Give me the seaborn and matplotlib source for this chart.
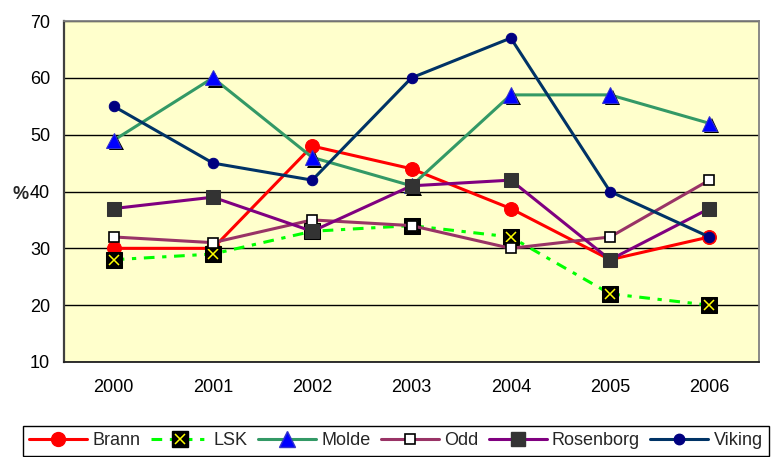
import matplotlib
matplotlib.use("Agg")
import matplotlib.pyplot as plt
import matplotlib.patheffects as pe
from matplotlib.lines import Line2D
from matplotlib.legend_handler import HandlerTuple
import seaborn as sns
import pandas as pd
import numpy as np

years = ["2000", "2001", "2002", "2003", "2004", "2005", "2006"]
brann = [30, 30, 48, 44, 37, 28, 32]
lsk = [28, 29, 33, 34, 32, 22, 20]
molde = [49, 60, 46, 41, 57, 57, 52]
odd = [32, 31, 35, 34, 30, 32, 42]
rosenborg = [37, 39, 33, 41, 42, 28, 37]
viking = [55, 45, 42, 60, 67, 40, 32]
yticks = [10, 20, 30, 40, 50, 60, 70]

sns.set_style("white")
plt.rcParams["font.family"] = ["Liberation Sans", "DejaVu Sans"]

fig = plt.figure(figsize=(7.73, 4.57), dpi=100)
W, H = 773, 457
ax = fig.add_axes([64 / W, (H - 362) / H, 695 / W, 341 / H])
ax.set_facecolor("#FFFFCC")

x = np.arange(len(years))
LW = 2.2

def df_of(vals):
    return pd.DataFrame({"x": x, "y": vals})

# Brann
sns.lineplot(data=df_of(brann), x="x", y="y", ax=ax, color="#FF0000", lw=LW,
             marker="o", markersize=10, markerfacecolor="#FF0000",
             markeredgecolor="#FF0000")
# LSK
lsk_ls = (0, (3.5, 2.5, 1.4, 2.5))
sns.lineplot(data=df_of(lsk), x="x", y="y", ax=ax, color="#00FF00", lw=LW,
             linestyle=lsk_ls)
sns.lineplot(data=df_of(lsk), x="x", y="y", ax=ax, color="black",
             linestyle="none", marker="s", markersize=11,
             markerfacecolor="black", markeredgecolor="black")
sns.lineplot(data=df_of(lsk), x="x", y="y", ax=ax, color="#FFFF00",
             linestyle="none", marker="x", markersize=7, markeredgewidth=1.1,
             markeredgecolor="#FFFF00")
# Molde
sns.lineplot(data=df_of(molde), x="x", y="y", ax=ax, color="#339966", lw=LW)
sns.lineplot(data=df_of(molde), x="x", y="y", ax=ax, color="#0000FF",
             linestyle="none", marker="^", markersize=11,
             markerfacecolor="#0000FF", markeredgecolor="#3333CC",
             path_effects=[pe.SimplePatchShadow(offset=(1.8, -1.8),
                                                shadow_rgbFace="black", alpha=1),
                           pe.Normal()])
# Odd
sns.lineplot(data=df_of(odd), x="x", y="y", ax=ax, color="#993366", lw=LW,
             marker="s", markersize=7.5, markerfacecolor="white",
             markeredgecolor="black", markeredgewidth=1.2)
# Rosenborg
sns.lineplot(data=df_of(rosenborg), x="x", y="y", ax=ax, color="#800080", lw=LW,
             marker="s", markersize=9.5, markerfacecolor="#333333",
             markeredgecolor="#333333")
# Viking
sns.lineplot(data=df_of(viking), x="x", y="y", ax=ax, color="#003366", lw=LW,
             marker="o", markersize=7.5, markerfacecolor="#000080",
             markeredgecolor="#000080")

ax.set_xlim(-0.5, len(years) - 0.5)
ax.set_ylim(yticks[0], yticks[-1])
ax.set_yticks(yticks)
ax.set_xticks(x)
ax.set_xticklabels(years)
ax.set_xticks(np.arange(-0.5, len(years)), minor=True)
ax.tick_params(axis="x", which="major", length=0, pad=12, labelsize=13, colors="black")
ax.tick_params(axis="x", which="minor", length=5, width=1.2, color="#404040", direction="out")
ax.tick_params(axis="y", which="major", length=5, width=1.2, color="#404040",
               direction="out", pad=5, labelsize=13, labelcolor="black")
ax.grid(axis="y", color="black", lw=1)
ax.grid(axis="x", visible=False)
ax.set_axisbelow(True)
ax.set_xlabel("")
ax.set_ylabel("%", rotation=0, fontweight="bold", fontsize=13, ha="center", va="center")
ax.yaxis.set_label_coords(-0.063, 0.49)

for s in ["top", "right"]:
    ax.spines[s].set_color("#808080")
    ax.spines[s].set_linewidth(1.3)
ax.spines["left"].set_color("#404040")
ax.spines["left"].set_linewidth(1.6)
ax.spines["bottom"].set_color("#202020")
ax.spines["bottom"].set_linewidth(1.3)

h_brann = Line2D([], [], color="#FF0000", lw=LW, marker="o", markersize=10,
                 markerfacecolor="#FF0000", markeredgecolor="#FF0000")
h_lsk = (Line2D([], [], color="#00FF00", lw=LW, linestyle=lsk_ls),
         Line2D([], [], linestyle="none", marker="s", markersize=11,
                markerfacecolor="black", markeredgecolor="black"),
         Line2D([], [], linestyle="none", marker="x", markersize=7,
                markeredgewidth=1.1, markeredgecolor="#FFFF00"))
h_molde = Line2D([], [], color="#339966", lw=LW, marker="^", markersize=11,
                 markerfacecolor="#0000FF", markeredgecolor="#3333CC")
h_odd = Line2D([], [], color="#993366", lw=LW, marker="s", markersize=7.5,
               markerfacecolor="white", markeredgecolor="black", markeredgewidth=1.2)
h_ros = Line2D([], [], color="#800080", lw=LW, marker="s", markersize=9.5,
               markerfacecolor="#333333", markeredgecolor="#333333")
h_vik = Line2D([], [], color="#003366", lw=LW, marker="o", markersize=7.5,
               markerfacecolor="#000080", markeredgecolor="#000080")

leg = fig.legend([h_brann, h_lsk, h_molde, h_odd, h_ros, h_vik],
                 ["Brann", "LSK", "Molde", "Odd", "Rosenborg", "Viking"],
                 handler_map={tuple: HandlerTuple(ndivide=1)},
                 loc="upper left", bbox_to_anchor=(23 / W, 0, 746 / W, 1 - 426 / H),
                 mode="expand", ncol=6, fontsize=13, frameon=True, fancybox=False,
                 edgecolor="black", framealpha=1, handlelength=3.2,
                 handletextpad=0.3, columnspacing=0.6, borderpad=0.35,
                 borderaxespad=0, numpoints=1)
leg.get_frame().set_linewidth(1.0)

fig.savefig("out.png", dpi=100)
